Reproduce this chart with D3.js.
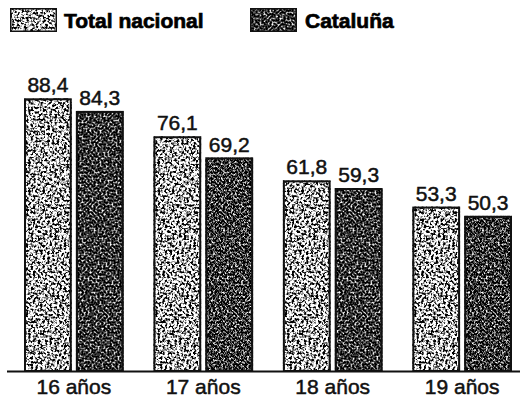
<!DOCTYPE html>
<html><head><meta charset="utf-8">
<script src="https://cdn.jsdelivr.net/npm/d3@7"></script>
<style>html,body{margin:0;padding:0;background:#fff;}svg{display:block;}</style>
</head><body>
<script>
const categories = ["16 años", "17 años", "18 años", "19 años"];
const seriesNames = ["Total nacional", "Cataluña"];
const totalNacional = [88.4, 76.1, 61.8, 53.3];
const cataluna = [84.3, 69.2, 59.3, 50.3];
const valueLabels = [["88,4","76,1","61,8","53,3"],["84,3","69,2","59,3","50,3"]];

const W = 520, H = 410;
const svg = d3.select("body").append("svg").attr("width", W).attr("height", H);
const defs = svg.append("defs");

function noiseFilter(id, mean, contrast, seed, freq) {
  const f = defs.append("filter").attr("id", id)
    .attr("x", 0).attr("y", 0).attr("width", 1).attr("height", 1)
    .attr("color-interpolation-filters", "sRGB");
  f.append("feTurbulence").attr("type", "fractalNoise").attr("baseFrequency", freq)
    .attr("numOctaves", 2).attr("seed", seed).attr("result", "n");
  const c = -0.5 * contrast + mean;
  const row = `${contrast} 0 0 0 ${c}`;
  f.append("feColorMatrix").attr("in", "n").attr("type", "matrix")
    .attr("values", `${row} ${contrast} 0 0 0 ${c} ${contrast} 0 0 0 ${c} 0 0 0 0 1`)
    .attr("result", "g");
  f.append("feComposite").attr("in", "g").attr("in2", "SourceGraphic").attr("operator", "in");
}
noiseFilter("texLight", 0.70, 5.0, 3, 0.42);
noiseFilter("texDark", 0.20, 3.0, 7, 0.5);
const filters = ["url(#texLight)", "url(#texDark)"];

const baseline = 371;
const y = d3.scaleLinear().domain([0, 100]).range([baseline, 62.5]);
const x0 = d3.scaleBand().domain(categories).range([24, 512]).paddingInner(0.23).paddingOuter(0);
const x1 = d3.scaleBand().domain(seriesNames).range([0, x0.bandwidth()]).paddingInner(0.08);

const data = categories.map((c, i) => ({
  cat: c,
  vals: [
    { s: seriesNames[0], v: totalNacional[i], label: valueLabels[0][i], k: 0 },
    { s: seriesNames[1], v: cataluna[i], label: valueLabels[1][i], k: 1 }
  ]
}));

const groups = svg.selectAll("g.grp").data(data).enter().append("g")
  .attr("class", "grp").attr("transform", d => `translate(${x0(d.cat)},0)`);

const bars = groups.selectAll("g.bar").data(d => d.vals).enter().append("g").attr("class", "bar");
bars.append("rect")
  .attr("x", d => x1(d.s)).attr("y", d => y(d.v))
  .attr("width", x1.bandwidth()).attr("height", d => baseline - y(d.v))
  .attr("fill", "#000").attr("filter", d => filters[d.k]);
bars.append("rect")
  .attr("x", d => x1(d.s) + 1).attr("y", d => y(d.v) + 1)
  .attr("width", x1.bandwidth() - 2).attr("height", d => baseline - y(d.v) - 1)
  .attr("fill", "none").attr("stroke", "#111").attr("stroke-width", 2);
bars.append("text")
  .attr("x", d => x1(d.s) + x1.bandwidth() / 2).attr("y", d => y(d.v) - 6)
  .attr("text-anchor", "middle")
  .attr("font-family", "Liberation Sans, Arial, sans-serif").attr("font-size", 21)
  .attr("fill", "#111").attr("stroke", "#111").attr("stroke-width", 0.5)
  .text(d => d.label);

// axis
const axis = d3.axisBottom(x0).tickSize(0).tickPadding(8);
const ax = svg.append("g").attr("transform", `translate(0,${baseline})`).call(axis);
ax.select(".domain").remove();
ax.append("line").attr("x1", 7).attr("x2", 520).attr("y1", 0.5).attr("y2", 0.5)
  .attr("stroke", "#111").attr("stroke-width", 1.8);
ax.selectAll(".tick text")
  .attr("font-family", "Liberation Sans, Arial, sans-serif").attr("font-size", 21)
  .attr("fill", "#111").attr("stroke", "#111").attr("stroke-width", 0.5)
  .attr("dy", "0.71em");

// legend
const legendX = [10, 250];
const leg = svg.selectAll("g.leg").data(seriesNames).enter().append("g")
  .attr("class", "leg").attr("transform", (d, i) => `translate(${legendX[i]},8)`);
leg.append("rect").attr("x", 0).attr("y", 0).attr("width", 47).attr("height", 24)
  .attr("fill", "#000").attr("filter", (d, i) => filters[i]);
leg.append("rect").attr("x", 0.75).attr("y", 0.75).attr("width", 45.5).attr("height", 22.5)
  .attr("fill", "none").attr("stroke", "#111").attr("stroke-width", 1.5);
leg.append("text").attr("x", (d, i) => i === 0 ? 54 : 55).attr("y", 19.5)
  .attr("font-family", "Liberation Sans, Arial, sans-serif").attr("font-size", 21)
  .attr("font-weight", "bold").attr("fill", "#000").attr("stroke", "#000").attr("stroke-width", 0.7)
  .text(d => d);
</script>
</body></html>
